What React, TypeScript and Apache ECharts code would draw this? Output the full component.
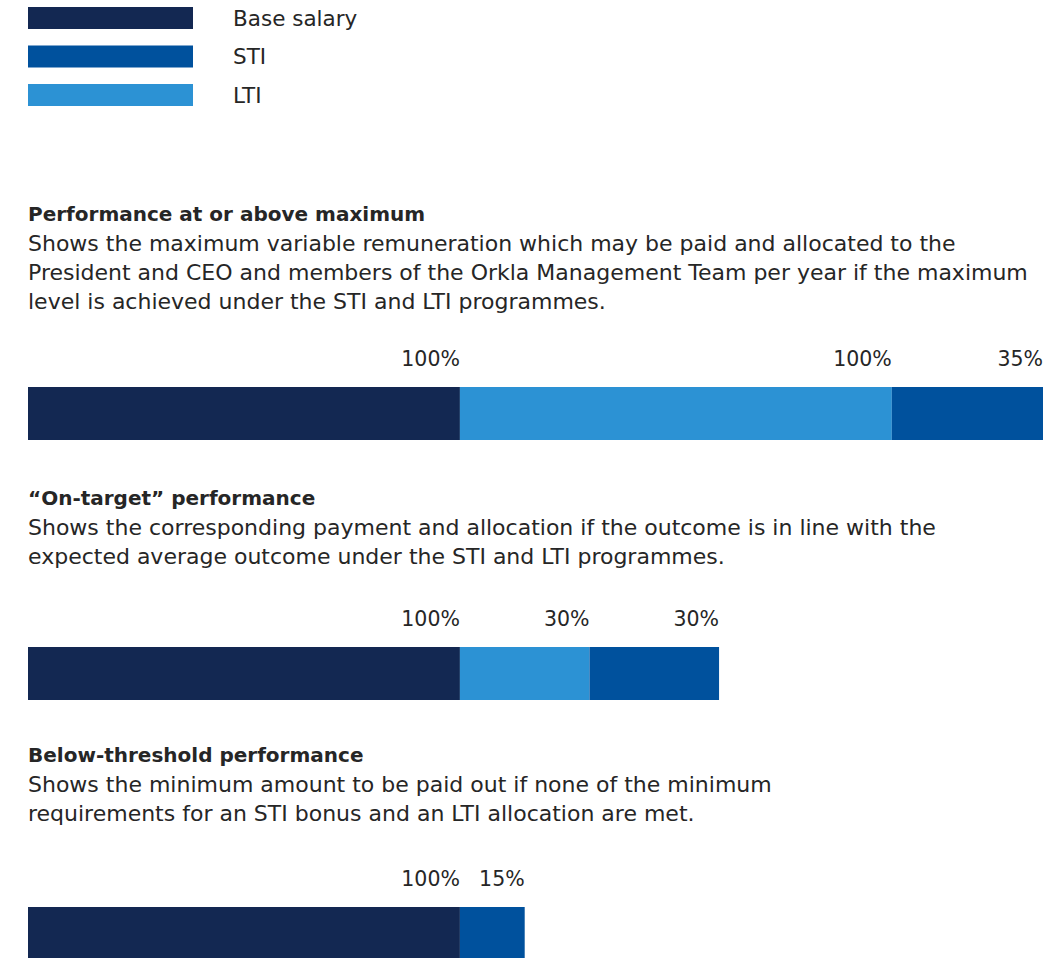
import React, { useEffect, useRef } from 'react';
import * as echarts from 'echarts';

const legendNames = ['Base salary', 'STI', 'LTI'];
const scenarioTitles = [
  'Performance at or above maximum',
  '\u201COn-target\u201D performance',
  'Below-threshold performance',
];
const scenarioDescriptions = [
  [
    'Shows the maximum variable remuneration which may be paid and allocated to the',
    'President and CEO and members of the Orkla Management Team per year if the maximum',
    'level is achieved under the STI and LTI programmes.',
  ],
  [
    'Shows the corresponding payment and allocation if the outcome is in line with the',
    'expected average outcome under the STI and LTI programmes.',
  ],
  [
    'Shows the minimum amount to be paid out if none of the minimum',
    'requirements for an STI bonus and an LTI allocation are met.',
  ],
];
// percentages of base salary
const baseSalary = [100, 100, 100];
const ltiValues: (number | null)[] = [100, 30, null];
const stiValues = [35, 30, 15];

const COLORS: Record<string, string> = {
  'Base salary': '#132852',
  STI: '#00519d',
  LTI: '#2c92d4',
};
const FONT = '"DejaVu Sans"';
const TEXT_COLOR = '#262626';

const gridTops = [387, 647, 907];
const titleYs = [214, 498, 755];
const LINE_H = 29.2;

export default function App() {
  const ref = useRef<HTMLDivElement>(null);
  useEffect(() => {
    if (!ref.current) return;
    const chart = echarts.init(ref.current, undefined, { renderer: 'svg' });

    const grids: any[] = [];
    const xAxes: any[] = [];
    const yAxes: any[] = [];
    const series: any[] = [];
    const graphics: any[] = [];

    scenarioTitles.forEach((title, i) => {
      grids.push({ left: 28, top: gridTops[i], width: 1015, height: 53, containLabel: false });
      xAxes.push({ type: 'value', gridIndex: i, min: 0, max: 235, show: false });
      yAxes.push({ type: 'category', gridIndex: i, data: [title], show: false });
      const segs: [string, number | null][] = [
        ['Base salary', baseSalary[i]],
        ['LTI', ltiValues[i]],
        ['STI', stiValues[i]],
      ];
      segs.forEach(([name, v]) => {
        series.push({
          type: 'bar',
          name,
          stack: 'g' + i,
          xAxisIndex: i,
          yAxisIndex: i,
          barWidth: 53,
          data: [v],
          itemStyle: { color: COLORS[name] },
          label: {
            show: v != null,
            position: ['100%', -28],
            align: 'right',
            verticalAlign: 'middle',
            formatter: (p: any) => `${p.value}%`,
            fontFamily: FONT,
            fontSize: 20.5,
            color: TEXT_COLOR,
          },
        });
      });

      graphics.push({
        type: 'text',
        x: 28,
        y: titleYs[i],
        style: {
          text: title,
          fontFamily: FONT,
          fontSize: 20,
          fontWeight: 'bold',
          fill: TEXT_COLOR,
          verticalAlign: 'middle',
        },
      });
      scenarioDescriptions[i].forEach((line, j) => {
        graphics.push({
          type: 'text',
          x: 28,
          y: titleYs[i] + LINE_H * (j + 1),
          style: {
            text: line,
            fontFamily: FONT,
            fontSize: 22,
            fill: TEXT_COLOR,
            verticalAlign: 'middle',
          },
        });
      });
    });

    chart.setOption({
      animation: false,
      backgroundColor: '#ffffff',
      legend: {
        data: legendNames,
        orient: 'vertical',
        left: 28,
        top: 7,
        padding: 0,
        icon: 'rect',
        itemWidth: 165,
        itemHeight: 22,
        itemGap: 16.5,
        selectedMode: false,
        textStyle: {
          fontFamily: FONT,
          fontSize: 21.5,
          color: TEXT_COLOR,
          padding: [4, 0, 0, 35],
        },
      },
      grid: grids,
      xAxis: xAxes,
      yAxis: yAxes,
      series,
      graphic: graphics,
    });
    return () => chart.dispose();
  }, []);
  return (
    <div
      ref={ref}
      style={{ position: 'fixed', left: 0, top: 0, width: 1048, height: 958 }}
    />
  );
}
